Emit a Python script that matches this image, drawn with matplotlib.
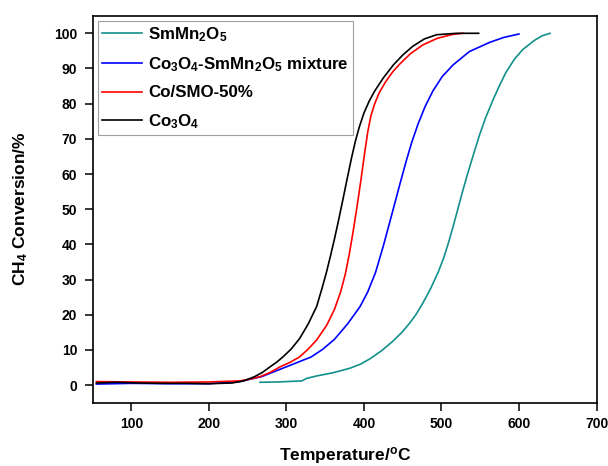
import matplotlib
matplotlib.use("Agg")
import matplotlib.pyplot as plt

plt.rcParams['font.family'] = ['Liberation Sans', 'DejaVu Sans']
plt.rcParams['font.weight'] = 'bold'
plt.rcParams['mathtext.fontset'] = 'custom'
plt.rcParams['mathtext.rm'] = 'Liberation Sans:bold'
plt.rcParams['mathtext.it'] = 'Liberation Sans:bold'
plt.rcParams['mathtext.bf'] = 'Liberation Sans:bold'

# SmMn2O5
t_smo = [266, 290, 320, 326, 339, 360, 382, 396, 408, 423, 438, 449, 459, 467, 476, 486, 496, 503, 509,
         515, 521, 527, 533, 540, 549, 557, 566, 575, 583, 594, 605, 620, 630, 640]
v_smo = [0.8, 0.9, 1.2, 1.9, 2.6, 3.5, 4.8, 6.0, 7.5, 9.8, 12.6, 15.0, 17.6, 20, 23.3, 27.4, 32.2, 36.2, 40.4,
         45, 49.9, 54.8, 59.5, 64.6, 71, 76, 80.8, 85.2, 88.8, 92.6, 95.4, 98, 99.3, 100]
# Co3O4-SmMn2O5 mixture
t_mix = [55, 100, 150, 200, 240, 268, 284, 300, 316, 332, 347, 362, 379, 395, 405, 415, 425, 432, 440, 447,
         455, 462, 470, 479, 489, 501, 515, 536, 562, 580, 600]
v_mix = [0.3, 0.5, 0.4, 0.4, 1.0, 2.4, 3.8, 5.2, 6.6, 8.0, 10.2, 13.0, 17.4, 22.3, 26.5, 32, 39.5, 45.2, 51.8, 57.6,
         64, 69.2, 74.3, 79.2, 83.6, 87.7, 91, 94.8, 97.4, 98.8, 99.8]
# Co/SMO-50%
t_cs = [55, 100, 150, 200, 240, 255, 266, 279, 292, 305, 317, 328, 339, 352, 362, 370, 376, 381, 386, 391,
        396, 401, 405, 409, 414, 420, 428, 437, 446, 460, 476, 495, 515, 528]
v_cs = [1.0, 0.9, 0.8, 0.9, 1.2, 1.8, 2.4, 3.6, 5.2, 6.5, 8.0, 10.2, 12.8, 17, 21.5, 26.5, 31.5, 37, 43.5, 50.5,
        58, 66, 72, 76.5, 80, 83.2, 86.2, 89, 91.2, 94.2, 96.7, 98.6, 99.7, 100]
# Co3O4
t_co = [55, 80, 110, 140, 170, 200, 230, 245, 259, 269, 279, 288, 296, 306, 317, 328, 339, 346, 352, 357,
        362, 367, 373, 378, 384, 389, 394, 400, 407, 414, 425, 438, 450, 463, 478, 494, 520, 548]
v_co = [0.6, 0.8, 0.6, 0.5, 0.5, 0.4, 0.6, 1.2, 2.4, 3.6, 5.2, 6.6, 8.1, 10.2, 13.2, 17.3, 22.3, 27.5, 32.3, 36.8,
        41.5, 46.5, 52.8, 58.2, 64.5, 69.3, 73.3, 77.3, 80.8, 83.6, 87.3, 91, 93.8, 96.3, 98.4, 99.6, 100, 100]

series = [
    (t_smo, v_smo, '#12908b', r'SmMn$_2$O$_5$'),
    (t_mix, v_mix, '#0000ff', r'Co$_3$O$_4$-SmMn$_2$O$_5$ mixture'),
    (t_cs, v_cs, '#ff0000', 'Co/SMO-50%'),
    (t_co, v_co, '#000000', r'Co$_3$O$_4$'),
]

W, H = 608, 466
fig = plt.figure(figsize=(W / 100, H / 100), dpi=100)
L, R, B, T = 92.5, 596.5, 402.7, 15.7
ax = fig.add_axes([L / W, (H - B) / H, (R - L) / W, (B - T) / H])
for t, v, c, lab in series:
    ax.plot(t, v, color=c, lw=1.2, label=lab)

ax.set_xlim(50, 700)
ax.set_ylim(-5, 105)
ax.set_xticks(range(100, 701, 100))
ax.set_yticks(range(0, 101, 10))
ax.tick_params(axis='both', direction='out', labelsize=10, width=1.1, length=5.5)
ax.tick_params(axis='y', pad=5.5)
ax.tick_params(axis='x', pad=4.5)
for lab in ax.get_xticklabels() + ax.get_yticklabels():
    lab.set_fontweight('bold')
for s in ax.spines.values():
    s.set_linewidth(1.2)

fig.text(345 / W, (H - 460.5) / H, r'Temperature/$^{\mathrm{o}}$C', fontsize=12.5,
         fontweight='bold', ha='center', va='baseline')
fig.text(20.5 / W, (H - 209) / H, r'CH$_4$ Conversion/%', fontsize=12.5,
         fontweight='bold', ha='center', va='center', rotation=90)

leg = ax.legend(loc='upper left', fontsize=12.2, frameon=True, fancybox=False,
                edgecolor='#888888', handlelength=2.4, borderaxespad=0.3,
                labelspacing=0.68, handletextpad=0.35, borderpad=0.25)
leg.get_frame().set_linewidth(0.8)
for txt in leg.get_texts():
    txt.set_fontweight('bold')

fig.savefig('out.png', dpi=100)
